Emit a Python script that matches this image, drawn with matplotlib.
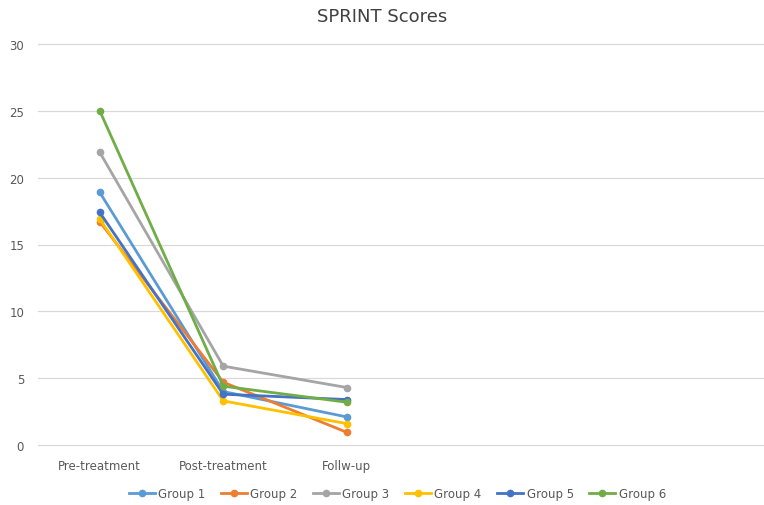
import matplotlib
matplotlib.use("Agg")
import matplotlib.pyplot as plt

categories = ["Pre-treatment", "Post-treatment", "Follw-up", "", "", ""]
groups = ["Group 1", "Group 2", "Group 3", "Group 4", "Group 5", "Group 6"]
group1 = [18.9, 4.0, 2.1]
group2 = [16.7, 4.7, 0.95]
group3 = [21.9, 5.9, 4.3]
group4 = [16.9, 3.3, 1.6]
group5 = [17.4, 3.8, 3.4]
group6 = [25.0, 4.4, 3.2]
series = [group1, group2, group3, group4, group5, group6]
colors = ["#5B9BD5", "#ED7D31", "#A5A5A5", "#FFC000", "#4472C4", "#70AD47"]

fig = plt.figure(figsize=(7.64, 5.06), dpi=100)
ax = fig.add_axes([38 / 764, 60 / 506, 741 / 764, 401 / 506])

x = list(range(len(categories)))
for name, vals, c in zip(groups, series, colors):
    ax.plot(x[:len(vals)], vals, color=c, lw=2.0, marker="o", ms=4.5, label=name)

ax.set_xlim(-0.5, len(categories) - 0.5)
ax.set_ylim(0, 30)
ax.set_yticks(range(0, 31, 5))
ax.set_xticks(x)
ax.set_xticklabels(categories)
ax.grid(axis="y", color="#D9D9D9", lw=0.9)
for gl in ax.get_ygridlines():
    gl.set_clip_on(False)
ax.set_axisbelow(True)
for s in ax.spines.values():
    s.set_visible(False)
ax.tick_params(axis="both", length=0, colors="#595959", labelsize=8.5)
ax.tick_params(axis="x", pad=10)
ax.tick_params(axis="y", pad=10)

fig.suptitle("SPRINT Scores", y=0.985, fontsize=13, color="#404040")
fig.legend(loc="lower center", ncol=6, frameon=False, fontsize=8.5,
           bbox_to_anchor=(0.52, -0.012), handlelength=2.2, columnspacing=1.3,
           handletextpad=0.3, labelcolor="#595959")

fig.savefig("out.png", dpi=100)
